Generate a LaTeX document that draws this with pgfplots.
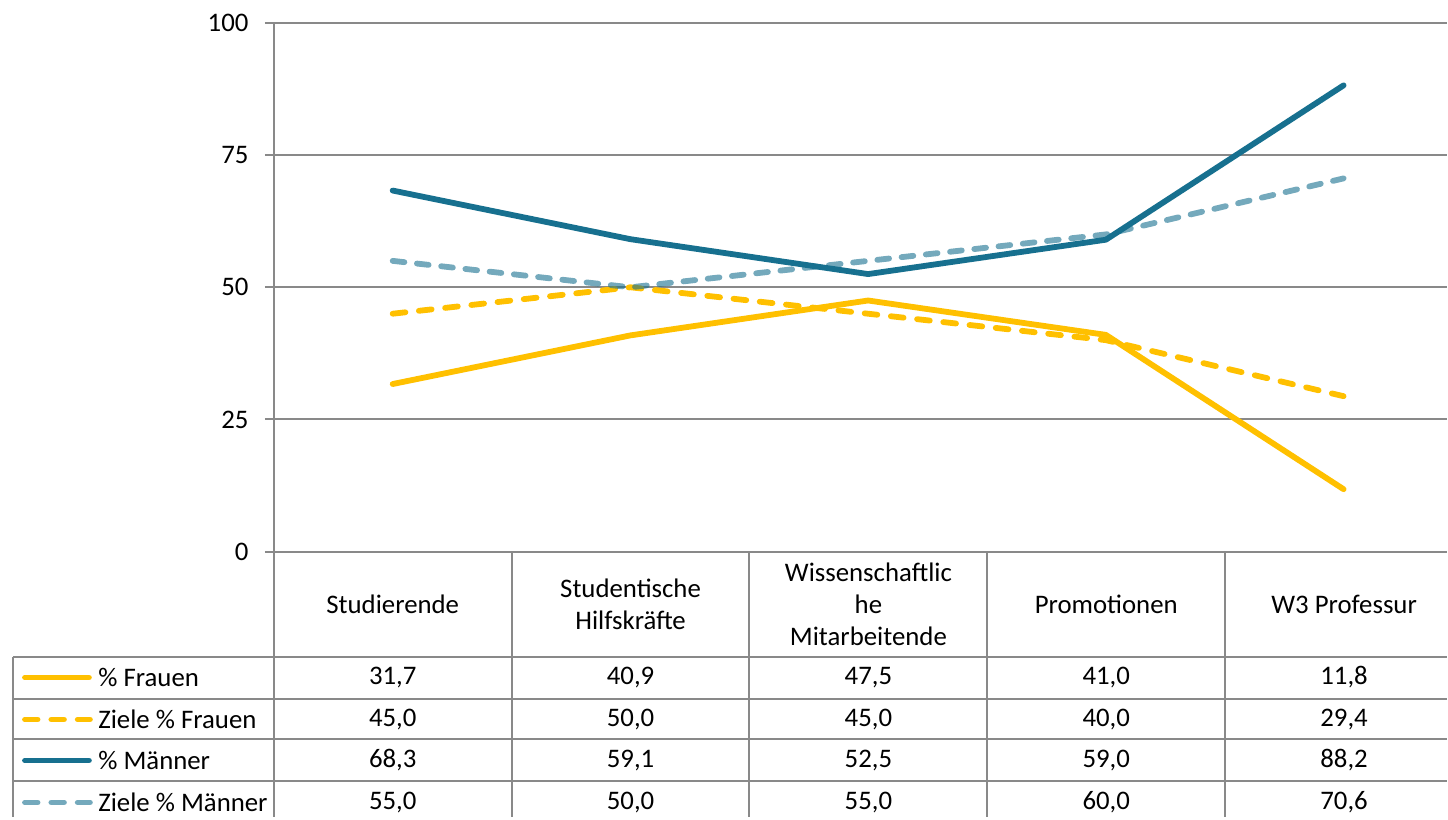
\documentclass[border=0pt]{standalone}
\usepackage{pgfplots}
\pgfplotsset{compat=1.18}
\usepackage{fontspec}
\setmainfont{Carlito}
\definecolor{gelb}{HTML}{FFC000}
\definecolor{tealA}{HTML}{17708F}
\definecolor{grau}{HTML}{898989}
\pgfplotstableread{
x fr zfr ma zma
0 31.7 45.0 68.3 55.0
1 40.9 50.0 59.1 50.0
2 47.5 45.0 52.5 55.0
3 41.0 40.0 59.0 60.0
4 11.8 29.4 88.2 70.6
}\datatab
\begin{document}
\begin{tikzpicture}[font=\fontsize{13.4}{16}\selectfont]
\path (0pt,0pt) rectangle (724pt,409pt);
\begin{axis}[
  at={(137pt,133pt)}, anchor=south west,
  scale only axis, width=587pt, height=264.5pt,
  xmin=-0.5, xmax=4.435, ymin=0, ymax=100,
  axis x line*=bottom, axis y line*=left,
  xtick=\empty, ytick={0,25,50,75,100},
  ymajorgrids, grid style={grau, line width=1pt},
  axis line style={grau, line width=1pt},
  y tick style={grau, line width=1pt},
  major tick length=4.5pt, tick align=outside,
  yticklabel style={/pgf/number format/assume math mode=true, font=\fontsize{13.4}{16}\selectfont, inner sep=0pt, xshift=-8pt},
  clip=false,
  every axis plot/.style={line width=2.9pt, line cap=round, line join=round},
]
\addplot[gelb] table[x=x,y=fr] {\datatab};
\addplot[gelb, dash pattern=on 6.4pt off 6.8pt] table[x=x,y=zfr] {\datatab};
\addplot[tealA] table[x=x,y=ma] {\datatab};
\addplot[tealA, opacity=0.6, dash pattern=on 5.9pt off 6.3pt] table[x=x,y=zma] {\datatab};
\end{axis}
\begin{scope}[x=0.5pt,y=0.5pt]
% table grid
\begin{scope}[grau, line width=1pt]
\foreach \xx in {274,512,750,988,1226} \draw (\xx,266) -- (\xx,0);
\draw (13,161) -- (13,0);
\foreach \yy in {161,119,78,36} \draw (13,\yy) -- (1448,\yy);
\end{scope}
% header
\node[align=center] at (393,213.5) {Studierende};
\node[align=center] at (631,213.5) {Studentische\\Hilfskräfte};
\node[align=center] at (869,213.5) {Wissenschaftlic\\he\\Mitarbeitende};
\node[align=center] at (1107,213.5) {Promotionen};
\node[align=center] at (1345,213.5) {W3 Professur};
% legend keys
\begin{scope}[line width=2.9pt, line cap=round]
\draw[gelb] (25,140) -- (89,140);
\draw[gelb, dash pattern=on 6.3pt off 6.9pt] (25,98) -- (90,98);
\draw[tealA] (25,57) -- (89,57);
\draw[tealA, opacity=0.6, dash pattern=on 6.3pt off 6.9pt] (25,15) -- (90,15);
\end{scope}
\node[anchor=west, inner sep=0pt] at (98,140) {\% Frauen};
\node[anchor=west, inner sep=0pt] at (98,98) {Ziele \% Frauen};
\node[anchor=west, inner sep=0pt] at (98,57) {\% Männer};
\node[anchor=west, inner sep=0pt] at (98,15) {Ziele \% Männer};
% values
\foreach \v [count=\i from 0] in {31{,}7,40{,}9,47{,}5,41{,}0,11{,}8} \node at (393+238*\i,140) {\v};
\foreach \v [count=\i from 0] in {45{,}0,50{,}0,45{,}0,40{,}0,29{,}4} \node at (393+238*\i,98) {\v};
\foreach \v [count=\i from 0] in {68{,}3,59{,}1,52{,}5,59{,}0,88{,}2} \node at (393+238*\i,57) {\v};
\foreach \v [count=\i from 0] in {55{,}0,50{,}0,55{,}0,60{,}0,70{,}6} \node at (393+238*\i,15) {\v};
\end{scope}
\end{tikzpicture}
\end{document}
